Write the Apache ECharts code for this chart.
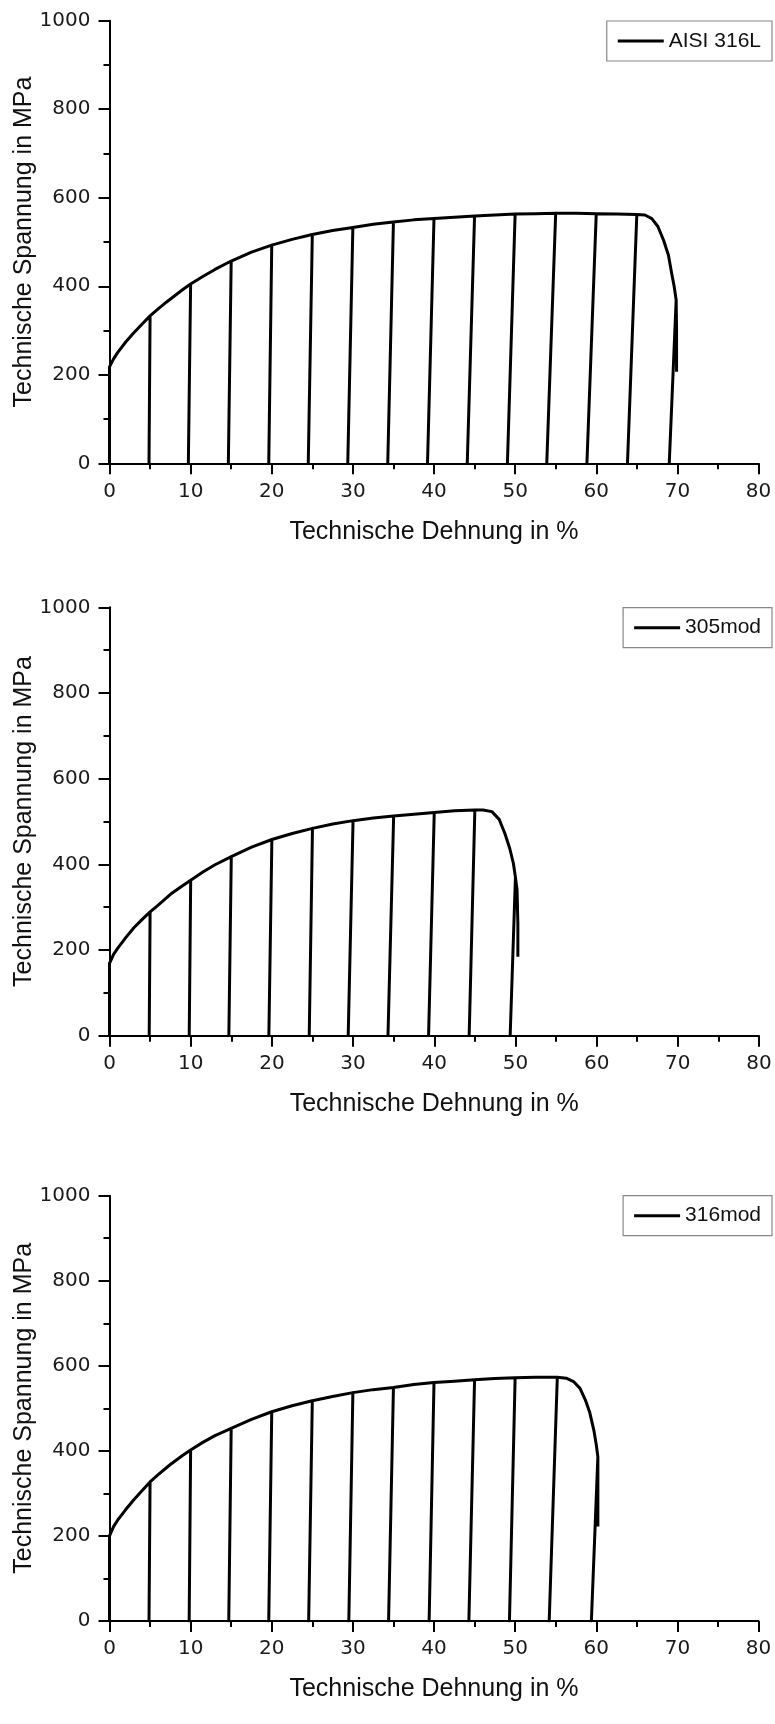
<!DOCTYPE html>
<html><head><meta charset="utf-8">
<script src="https://cdn.jsdelivr.net/npm/echarts@6/dist/echarts.min.js"></script>
<style>html,body{margin:0;padding:0;background:#fff}#c{width:775px;height:1724px}</style>
</head><body><div id="c"></div>
<script>
// [strain %, stress MPa] — loading/unloading path
const curveAISI316L = [
  [0,0],[0,218],[0.5,236],[1,250],[2,274],[3,295],[4,314],[5,333],
  [4.87,0],[5,333],[6,349],[7,364],[8,378],[9,392],[10,405],
  [9.72,0],[10,405],[11.5,422],[13,438],[15,457],
  [14.65,0],[15,457],[17.5,477],[20,493],
  [19.63,0],[20,493],[22.5,506],[25,517],
  [24.5,0],[25,517],[27.5,526],[30,533],
  [29.37,0],[30,533],[32.5,540],[35,545],
  [34.3,0],[35,545],[37.5,550],[40,553],
  [39.2,0],[40,553],[42.5,556],[45,559],
  [44.1,0],[45,559],[47.5,561],[50,563],
  [49.05,0],[50,563],[52.5,564],[55,565],
  [53.9,0],[55,565],[57.5,565],[60,564],
  [58.85,0],[60,564],[62.5,563],[65,562],
  [63.85,0],[65,562],[66,561],[66.85,553],[67.6,535],[68.3,504],[68.9,470],[69.3,429],[69.6,400],[69.85,369],
  [69.0,0],[69.85,369],[69.9,300],[69.9,207]
];
const curve305mod = [
  [0,0],[0,169],[0.5,190],[1,204],[2,229],[3,252],[4,271],[5,289],
  [4.89,0],[5,289],[6,305],[7.5,330],[9,350],[10,363],
  [9.82,0],[10,363],[11.5,382],[13,399],[15,418],
  [14.7,0],[15,418],[17.5,440],[20,458],
  [19.63,0],[20,458],[22.5,472],[25,484],
  [24.6,0],[25,484],[27.5,494],[30,502],
  [29.4,0],[30,502],[32.5,508],[35,513],
  [34.3,0],[35,513],[37.5,517],[40,521],
  [39.3,0],[40,521],[42.5,525],[45,527],
  [44.3,0],[45,527],[46,527],[47.1,523],[48,505],[48.7,472],[49.3,437],[49.75,402],[50.0,370],
  [49.35,0],[50.0,370],[50.2,340],[50.3,260],[50.3,184]
];
const curve316mod = [
  [0,0],[0,200],[0.5,222],[1,237],[2,262],[3,285],[4,306],[5,327],
  [4.87,0],[5,327],[6,344],[7.5,368],[9,389],[10,402],
  [9.82,0],[10,402],[11.5,420],[13,436],[15,453],
  [14.7,0],[15,453],[17.5,474],[20,492],
  [19.63,0],[20,492],[22.5,506],[25,518],
  [24.55,0],[25,518],[27.5,528],[30,537],
  [29.5,0],[30,537],[32.5,544],[35,549],
  [34.4,0],[35,549],[37.5,556],[40,561],
  [39.4,0],[40,561],[42.5,564],[45,567],
  [44.3,0],[45,567],[47.5,570],[50,572],
  [49.3,0],[50,572],[52.5,573],[55.2,573],
  [54.2,0],[55.2,573],[56.3,571],[57.2,563],[58,547],[58.65,520],[59.2,490],[59.7,449],[60.0,415],[60.2,386],
  [59.4,0],[60.2,386],[60.2,300],[60.2,222]
];
const seriesNames = ['AISI 316L', '305mod', '316mod'];
const curves = [curveAISI316L, curve305mod, curve316mod];
const xLabel = 'Technische Dehnung in %';
const yLabel = 'Technische Spannung in MPa';

const grids = [
  {left: 109.5, top: 20.7, width: 649, height: 442.6},
  {left: 109.5, top: 607.3, width: 649.5, height: 428.4},
  {left: 109.5, top: 1195.7, width: 649, height: 425.3}
];
const legendTops = [21, 607.7, 1195.7];

const tickFont = {fontFamily: 'DejaVu Sans', fontSize: 20, color: '#1a1a1a'};
const titleFont = {fontFamily: 'Liberation Sans', fontSize: 25, color: '#111'};
const axisLine = {show: true, onZero: false, lineStyle: {color: '#000', width: 2}};

const option = {
  animation: false,
  backgroundColor: '#fff',
  grid: grids.map(g => Object.assign({containLabel: false, outerBoundsMode: 'none'}, g)),
  xAxis: grids.map((g, i) => ({
    type: 'value', gridIndex: i, min: 0, max: 80, interval: 10,
    name: xLabel, nameLocation: 'middle', nameGap: 56, nameTextStyle: titleFont,
    axisLine: axisLine,
    axisTick: {show: true, inside: false, length: 11, lineStyle: {color: '#000', width: 2}},
    minorTick: {show: true, splitNumber: 2, length: 6, lineStyle: {color: '#000', width: 2}},
    axisLabel: Object.assign({margin: 18, formatter: v => String(v)}, tickFont),
    splitLine: {show: false}
  })),
  yAxis: grids.map((g, i) => ({
    type: 'value', gridIndex: i, min: 0, max: 1000, interval: 200,
    name: yLabel, nameLocation: 'middle', nameGap: 73, nameMoveOverlap: false,
    nameTextStyle: titleFont,
    axisLine: axisLine,
    axisTick: {show: true, inside: false, length: 11, lineStyle: {color: '#000', width: 2}},
    minorTick: {show: true, splitNumber: 2, length: 6, lineStyle: {color: '#000', width: 2}},
    axisLabel: Object.assign({margin: 19, formatter: v => String(v)}, tickFont),
    splitLine: {show: false}
  })),
  legend: seriesNames.map((n, i) => ({
    data: [n], right: 3, top: legendTops[i], orient: 'horizontal',
    padding: [9, 11, 9, 11], itemWidth: 46, itemHeight: 3, icon: 'rect',
    itemStyle: {color: '#000', borderWidth: 0},
    borderColor: '#888', borderWidth: 1.2, borderRadius: 0,
    textStyle: {fontFamily: 'Liberation Sans', fontSize: 21, color: '#111', lineHeight: 22},
    selectedMode: false
  })),
  series: seriesNames.map((n, i) => ({
    name: n, type: 'line', xAxisIndex: i, yAxisIndex: i,
    data: curves[i], symbol: 'none', showSymbol: false,
    lineStyle: {color: '#000', width: 3, join: 'round'},
    itemStyle: {color: '#000'},
    silent: true
  }))
};
const chart = echarts.init(document.getElementById('c'), null, {renderer: 'canvas'});
chart.setOption(option);
</script>
</body></html>
